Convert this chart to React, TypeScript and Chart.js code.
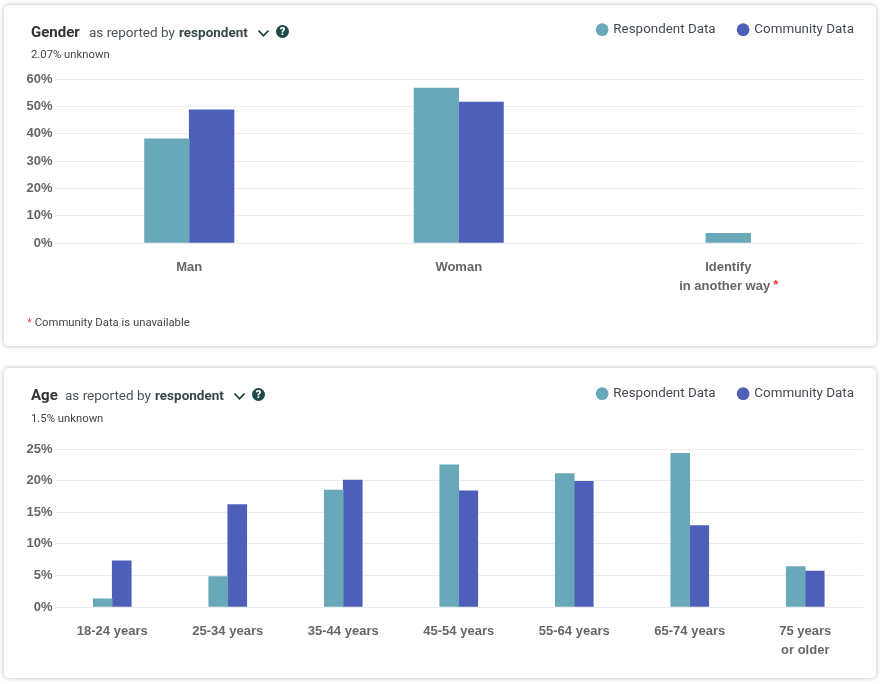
import React, { useEffect, useRef } from "react";
import { Chart, registerables } from "chart.js";

Chart.register(...registerables);

const genderCategories = ["Man", "Woman", ["Identify", "in another way  "]];
const genderRespondent = [38.1, 56.7, 3.5];
const genderCommunity: (number | null)[] = [48.7, 51.6, null];
const genderTicks = { max: 60, step: 10 };

const ageCategories = ["18-24 years", "25-34 years", "35-44 years", "45-54 years", "55-64 years", "65-74 years", ["75 years", "or older"]];
const ageRespondent = [1.3, 4.8, 18.5, 22.5, 21.1, 24.3, 6.4];
const ageCommunity = [7.3, 16.2, 20.1, 18.4, 19.9, 12.9, 5.7];
const ageTicks = { max: 25, step: 5 };

const TEAL = "#69a8b9";
const BLUE = "#4e5fba";
const ROBOTO = "Roboto, sans-serif";
const LABEL_FONT = "'Liberation Sans'";

function BarCard(props: any) {
  const { top, height, categories, respondent, community, ticks, plotTop, plotBottom, starLabel, barSize, legendTop } = props;
  const ref = useRef<HTMLCanvasElement>(null);
  useEffect(() => {
    const legendSizer = {
      id: "legendSizer",
      beforeInit(chart: any) {
        const fit = chart.legend.fit;
        chart.legend.fit = function () {
          fit.call(this);
          this.height = plotTop;
        };
      },
      afterLayout(chart: any) {
        chart.legend.top = legendTop;
        chart.legend.right = 873;
      },
    };
    const star = {
      id: "star",
      afterDraw(chart: any) {
        if (starLabel == null) return;
        const x = chart.scales.x;
        const ctx = chart.ctx;
        ctx.save();
        ctx.font = `bold 13px ${LABEL_FONT}`;
        const w = ctx.measureText("in another way  ").width;
        ctx.fillStyle = "#e8354d";
        ctx.textAlign = "right";
        ctx.textBaseline = "alphabetic";
        ctx.fillText("*", x.getPixelForTick(starLabel) + w / 2 + 1, chart.chartArea.bottom + 46);
        ctx.restore();
      },
    };
    const chart = new Chart(ref.current!, {
      type: "bar",
      data: {
        labels: categories,
        datasets: [
          { label: "Respondent Data", data: respondent, backgroundColor: TEAL, skipNull: true, barThickness: barSize } as any,
          { label: "Community Data", data: community, backgroundColor: BLUE, skipNull: true, barThickness: barSize } as any,
        ],
      },
      options: {
        animation: false,
        responsive: false,
        layout: { padding: { top: 0, right: 13, left: 0, bottom: 0 } },
        plugins: {
          tooltip: { enabled: false },
          legend: {
            position: "top",
            align: "end",
            onClick: () => {},
            labels: {
              usePointStyle: true,
              pointStyle: "circle",
              boxWidth: 9,
              boxHeight: 9,
              padding: 23,
              color: "#444a52",
              font: { family: ROBOTO, size: 13.4 },
            },
          },
        },
        scales: {
          x: {
            border: { display: false },
            grid: { display: false, drawTicks: false },
            afterFit(s: any) {
              s.height = height - plotBottom;
            },
            ticks: { color: "#666", padding: 15, maxRotation: 0, autoSkip: false, font: { family: LABEL_FONT, size: 13, weight: "bold", lineHeight: 1.45 } },
          },
          y: {
            min: 0,
            max: ticks.max,
            border: { display: false },
            grid: { color: "#ececec", drawTicks: false },
            afterFit(s: any) {
              s.width = 50.5;
            },
            ticks: { stepSize: ticks.step, color: "#666", padding: 2, callback: (v: any) => v + "%", font: { family: LABEL_FONT, size: 13, weight: "bold" } },
          },
        },
      },
      plugins: [legendSizer, star],
    } as any);
    return () => chart.destroy();
  }, []);
  return (
    <div style={{ position: "absolute", left: 4, top, width: 872, height, background: "#fff", borderRadius: 5, boxShadow: "0 0 5px rgba(0,0,0,0.28)" }}>
      <canvas ref={ref} width={872} height={height} style={{ display: "block", position: "absolute", left: 0, top: 0 }} />
    </div>
  );
}

function Txt({ x, y, size = 13.5, weight = 400, color = "#4a5358", children }: any) {
  return (
    <span style={{ position: "absolute", left: x, top: y, fontFamily: ROBOTO, fontSize: size, fontWeight: weight, color, lineHeight: "16px", whiteSpace: "nowrap" }}>
      {children}
    </span>
  );
}

function Header({ name, nameX, asX, respX, chevX, helpX, y, unknown, unknownOffset }: any) {
  return (
    <>
      <Txt x={nameX} y={y - 8} size={15} weight={700} color="#333">{name}</Txt>
      <Txt x={asX} y={y - 8}>as reported by</Txt>
      <Txt x={respX} y={y - 8} weight={700} color="#37474a">respondent</Txt>
      <svg style={{ position: "absolute", left: chevX, top: y - 3 }} width={13} height={9} viewBox="0 0 13 9">
        <path d="M1.5 1.5 L6.5 6.8 L11.5 1.5" fill="none" stroke="#1f3d3d" strokeWidth={1.8} />
      </svg>
      <span style={{ position: "absolute", left: helpX, top: y - 7, width: 13, height: 13, borderRadius: "50%", background: "#1c4a47", color: "#fff", fontFamily: ROBOTO, fontWeight: 900, fontSize: 11, lineHeight: "13px", textAlign: "center" }}>?</span>
      <Txt x={nameX} y={y + unknownOffset} size={11.3} color="#444">{unknown}</Txt>
    </>
  );
}

export default function App() {
  return (
    <div style={{ position: "absolute", left: 0, top: 0, width: 885, height: 684, overflow: "hidden", background: "#fff" }}>
      <BarCard top={5} height={341} categories={genderCategories} respondent={genderRespondent} community={genderCommunity} ticks={genderTicks} plotTop={74} plotBottom={238} starLabel={2} barSize={44.7} legendTop={-5} />
      <BarCard top={368} height={310} categories={ageCategories} respondent={ageRespondent} community={ageCommunity} ticks={ageTicks} plotTop={81} plotBottom={239} barSize={19} legendTop={-4} />
      <Header name="Gender" nameX={31} asX={89} respX={179} chevX={257} helpX={276} y={32} unknown="2.07% unknown" unknownOffset={15} />
      <Header name="Age" nameX={31} asX={65} respX={155} chevX={233} helpX={252} y={395} unknown="1.5% unknown" unknownOffset={16} />
      <Txt x={27} y={315} size={11.3} color="#444"><span style={{ color: "#d9534f" }}>*</span> Community Data is unavailable</Txt>
    </div>
  );
}
